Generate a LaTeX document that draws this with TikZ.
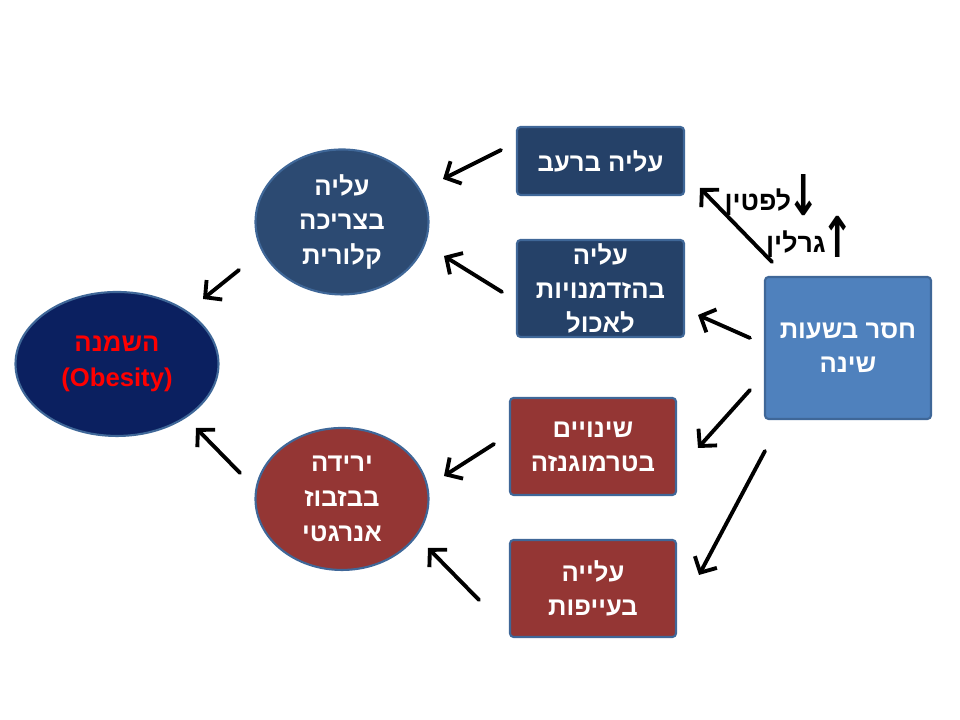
\documentclass[tikz,border=0pt]{standalone}
\usepackage{fontspec}
\setmainfont{Liberation Sans}
\newfontfamily\hebfont[Script=Hebrew,BoldFont={Liberation Sans Bold}]{Liberation Sans}
\newfontfamily\arrowfont{DejaVu Sans Bold}
\TeXXeTstate=1
\usepackage{xcolor}
\usepackage{tikz}
\usetikzlibrary{arrows.meta,calc,shapes.geometric}
\definecolor{navyfill}{HTML}{0B2060}
\definecolor{darkfill}{HTML}{2C4A72}
\definecolor{boxfill}{HTML}{254168}
\definecolor{redfill}{HTML}{943634}
\definecolor{lightfill}{HTML}{4F81BD}
\definecolor{edgeblue}{HTML}{3F6798}
\newcommand{\hebl}[1]{\beginR #1\endR}
\newcommand{\tallarrow}[1]{\kern-1.2pt\raisebox{-1.2pt}{\scalebox{1.1}[1.6]{\arrowfont\fontsize{10}{10}\selectfont#1}}}
\tikzset{
  oval/.style={ellipse, draw=edgeblue, line width=0.6pt, inner sep=0pt, align=center,
    text=white, font=\hebfont\bfseries\fontsize{7.3}{9.9}\selectfont},
  card/.style={rectangle, rounded corners=1pt, draw=edgeblue, line width=0.6pt, inner sep=0pt,
    align=center, text=white, font=\hebfont\bfseries\fontsize{7.3}{9.7}\selectfont},
  hormone/.style={inner sep=0pt, font=\hebfont\bfseries\fontsize{7.6}{10}\selectfont},
  arr/.style={-{Straight Barb[length=1.2mm,width=2.5mm]}, line width=1.1pt},
  every picture/.style={line cap=round, line join=round}
}

\begin{document}
\begin{tikzpicture}
  \useasboundingbox (0,0) rectangle (9.6,7.2);
  \node[oval, fill=navyfill, minimum width=2.03cm, minimum height=1.44cm, text=red] (obes) at (1.17,3.56)
    {\hebl{השמנה}\\(Obesity)};
  \node[oval, fill=darkfill, minimum width=1.73cm, minimum height=1.45cm] (calor) at (3.42,4.98)
    {\hebl{עליה}\\\hebl{בצריכה}\\\hebl{קלורית}};
  \node[oval, fill=redfill, minimum width=1.73cm, minimum height=1.42cm] (energy) at (3.42,2.21)
    {\hebl{ירידה}\\\hebl{בבזבוז}\\\hebl{אנרגטי}};
  \node[card, fill=boxfill, minimum width=1.67cm, minimum height=0.68cm] (hunger) at (6.005,5.59)
    {\hebl{עליה ברעב}};
  \node[card, fill=boxfill, minimum width=1.67cm, minimum height=0.97cm] (eatop) at (6.005,4.315)
    {\hebl{עליה}\\\hebl{בהזדמנויות}\\\hebl{לאכול}};
  \node[card, fill=redfill, minimum width=1.66cm, minimum height=0.97cm] (thermo) at (5.93,2.735)
    {\hebl{שינויים}\\\hebl{בטרמוגנזה}};
  \node[card, fill=redfill, minimum width=1.66cm, minimum height=0.97cm] (tired) at (5.93,1.315)
    {\hebl{עלייה}\\\hebl{בעייפות}};
  \node[card, fill=lightfill, minimum width=1.66cm, minimum height=1.42cm] (sleep) at (8.48,3.72)
    {\hebl{חסר בשעות}\\\hebl{שינה}};
  \node[hormone] (leptin) at (7.72,5.25) {\hebl{לפטין}\tallarrow{↓}};
  \node[hormone] (ghrelin) at (8.10,4.83) {\hebl{גרלין}\tallarrow{↑}};

  \coordinate (a1) at (5.01,5.70); \coordinate (b1) at (4.43,5.41);
  \coordinate (a2) at (5.02,4.28); \coordinate (b2) at (4.44,4.64);
  \coordinate (a3) at (2.39,4.50); \coordinate (b3) at (2.03,4.21);
  \coordinate (a4) at (2.40,2.47); \coordinate (b4) at (1.96,2.92);
  \coordinate (a5) at (4.94,2.76); \coordinate (b5) at (4.44,2.44);
  \coordinate (a6) at (4.79,1.20); \coordinate (b6) at (4.28,1.72);
  \coordinate (a7) at (7.50,3.82); \coordinate (b7) at (6.98,4.05);
  \coordinate (a8) at (7.50,3.30); \coordinate (b8) at (6.98,2.72);
  \coordinate (a9) at (7.65,2.69); \coordinate (b9) at (6.99,1.45);
  \coordinate (a10) at (7.72,4.58); \coordinate (b10) at (7.00,5.32);
  \foreach \i in {1,...,10}
    \draw[arr] (a\i) -- (b\i);
\end{tikzpicture}
\end{document}
